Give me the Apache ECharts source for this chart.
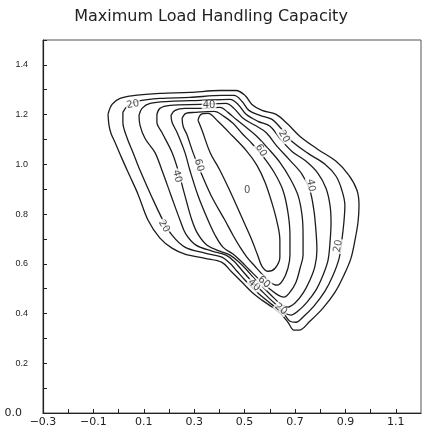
<!DOCTYPE html>
<html>
<head>
<meta charset="utf-8">
<script src="https://cdn.jsdelivr.net/npm/echarts@6/dist/echarts.min.js"></script>
<style>
  html, body { margin: 0; padding: 0; background: #fff; }
  #chart { width: 422px; height: 434px; }
</style>
</head>
<body>
<div id="chart"></div>
<script>
const title = "Maximum Load Handling Capacity";
const xLabelValues = [-0.3, -0.1, 0.1, 0.3, 0.5, 0.7, 0.9, 1.1];
const yLabelValues = [0.0, 0.2, 0.4, 0.6, 0.8, 1.0, 1.2, 1.4];

// contour lines, outermost first, [x, y]
const contour1 = [[-0.042,1.201],[-0.026,1.241],[0.006,1.265],[0.065,1.277],[0.164,1.285],[0.283,1.289],[0.402,1.297],[0.466,1.297],[0.502,1.277],[0.529,1.241],[0.569,1.217],[0.625,1.201],[0.672,1.161],[0.720,1.112],[0.791,1.060],[0.863,1.012],[0.914,0.956],[0.946,0.896],[0.954,0.835],[0.950,0.767],[0.938,0.695],[0.922,0.622],[0.894,0.554],[0.859,0.486],[0.811,0.422],[0.759,0.369],[0.716,0.333],[0.696,0.333],[0.672,0.365],[0.644,0.398],[0.609,0.426],[0.569,0.454],[0.529,0.486],[0.490,0.526],[0.450,0.566],[0.410,0.606],[0.343,0.622],[0.263,0.639],[0.212,0.663],[0.164,0.703],[0.117,0.775],[0.077,0.880],[0.045,0.952],[0.013,1.024],[-0.014,1.088],[-0.030,1.124],[-0.038,1.157],[-0.042,1.201]];
const contour2 = [[0.017,1.209],[0.037,1.237],[0.073,1.253],[0.164,1.265],[0.283,1.269],[0.410,1.277],[0.458,1.277],[0.490,1.253],[0.517,1.217],[0.561,1.197],[0.609,1.181],[0.644,1.145],[0.684,1.096],[0.752,1.044],[0.819,1.000],[0.863,0.952],[0.886,0.896],[0.898,0.835],[0.894,0.767],[0.886,0.695],[0.875,0.622],[0.851,0.554],[0.819,0.490],[0.775,0.430],[0.732,0.386],[0.704,0.365],[0.680,0.369],[0.656,0.398],[0.621,0.426],[0.581,0.458],[0.541,0.494],[0.502,0.534],[0.470,0.570],[0.442,0.602],[0.410,0.627],[0.343,0.643],[0.263,0.667],[0.212,0.715],[0.176,0.775],[0.129,0.875],[0.085,0.976],[0.057,1.048],[0.033,1.108],[0.017,1.169],[0.017,1.209]];
const contour3 = [[0.081,1.197],[0.093,1.225],[0.125,1.245],[0.204,1.253],[0.323,1.257],[0.442,1.261],[0.474,1.241],[0.506,1.201],[0.553,1.173],[0.601,1.153],[0.640,1.104],[0.688,1.052],[0.744,1.012],[0.791,0.964],[0.823,0.904],[0.839,0.835],[0.843,0.767],[0.839,0.687],[0.831,0.614],[0.811,0.554],[0.783,0.494],[0.748,0.446],[0.712,0.410],[0.684,0.394],[0.660,0.402],[0.636,0.426],[0.601,0.458],[0.561,0.498],[0.521,0.538],[0.486,0.578],[0.458,0.610],[0.426,0.635],[0.371,0.651],[0.307,0.675],[0.267,0.719],[0.244,0.775],[0.208,0.875],[0.172,0.976],[0.144,1.048],[0.105,1.104],[0.085,1.157],[0.081,1.197]];
const contour4 = [[0.152,1.201],[0.164,1.225],[0.204,1.237],[0.323,1.241],[0.426,1.245],[0.458,1.225],[0.494,1.185],[0.541,1.157],[0.585,1.128],[0.629,1.072],[0.680,1.016],[0.728,0.960],[0.759,0.896],[0.775,0.815],[0.783,0.735],[0.787,0.655],[0.779,0.590],[0.759,0.534],[0.732,0.482],[0.700,0.442],[0.672,0.426],[0.648,0.434],[0.617,0.462],[0.581,0.498],[0.541,0.538],[0.506,0.578],[0.474,0.610],[0.442,0.635],[0.402,0.651],[0.351,0.675],[0.315,0.719],[0.291,0.775],[0.263,0.875],[0.236,0.976],[0.212,1.048],[0.172,1.128],[0.152,1.169],[0.152,1.201]];
const contour5 = [[0.208,1.197],[0.224,1.217],[0.263,1.225],[0.323,1.225],[0.402,1.229],[0.434,1.209],[0.466,1.181],[0.506,1.149],[0.545,1.116],[0.593,1.064],[0.640,1.008],[0.680,0.944],[0.712,0.875],[0.728,0.795],[0.732,0.715],[0.732,0.635],[0.720,0.582],[0.704,0.526],[0.680,0.486],[0.656,0.466],[0.633,0.474],[0.601,0.498],[0.561,0.534],[0.521,0.574],[0.486,0.610],[0.454,0.639],[0.414,0.667],[0.383,0.715],[0.355,0.775],[0.315,0.875],[0.283,0.976],[0.263,1.048],[0.232,1.128],[0.212,1.169],[0.208,1.197]];
const contour6 = [[0.252,1.185],[0.267,1.205],[0.303,1.209],[0.379,1.213],[0.418,1.193],[0.454,1.165],[0.490,1.124],[0.529,1.084],[0.573,1.032],[0.617,0.968],[0.652,0.896],[0.672,0.807],[0.680,0.715],[0.680,0.635],[0.672,0.582],[0.652,0.534],[0.629,0.514],[0.601,0.526],[0.573,0.554],[0.541,0.590],[0.509,0.627],[0.482,0.667],[0.454,0.715],[0.422,0.775],[0.367,0.875],[0.323,0.976],[0.295,1.048],[0.271,1.120],[0.256,1.153],[0.252,1.185]];
const contour7 = [[0.315,1.177],[0.327,1.201],[0.355,1.205],[0.394,1.173],[0.450,1.116],[0.506,1.056],[0.549,0.996],[0.581,0.928],[0.609,0.843],[0.629,0.767],[0.640,0.695],[0.640,0.627],[0.621,0.582],[0.593,0.570],[0.569,0.590],[0.553,0.631],[0.529,0.695],[0.494,0.775],[0.450,0.875],[0.402,0.976],[0.363,1.048],[0.331,1.137],[0.315,1.177]];

// contour labels: text, x, y
const contourLabels = [
  ["20", 0.057, 1.241],
  ["40", 0.359, 1.237],
  ["20", 0.656, 1.112],
  ["60", 0.565, 1.056],
  ["0", 0.510, 0.896],
  ["40", 0.232, 0.952],
  ["60", 0.319, 0.996],
  ["20", 0.180, 0.751],
  ["40", 0.763, 0.916],
  ["20", 0.871, 0.671],
  ["40", 0.537, 0.514],
  ["60", 0.577, 0.526],
  ["20", 0.644, 0.418],
];
const labelRotation = [12, 0, -60, -60, 0, -75, -75, -60, -80, 80, -40, -40, -40];

const contours = [contour1, contour2, contour3, contour4, contour5, contour6, contour7];

const chart = echarts.init(document.getElementById("chart"), null, { renderer: "canvas" });

const isIn = (list, v) => list.some((t) => Math.abs(t - v) < 1e-6);

const lineSeries = contours.map((c) => ({
  type: "line",
  data: c,
  smooth: 0.35,
  symbol: "none",
  silent: true,
  lineStyle: { color: "#1c1c1c", width: 1.3 },
  z: 2,
}));

const labelSeries = {
  type: "scatter",
  symbol: "circle",
  symbolSize: 1,
  silent: true,
  z: 5,
  itemStyle: { color: "rgba(0,0,0,0)" },
  data: contourLabels.map((l, i) => ({
    value: [l[1], l[2]],
    name: l[0],
    label: { rotate: labelRotation[i] },
  })),
  label: {
    show: true,
    position: "inside",
    formatter: (p) => p.name,
    fontFamily: "DejaVu Sans",
    fontSize: 10,
    color: "#1c1c1c",
    backgroundColor: "#fff",
    padding: [0, 1],
  },
};

chart.setOption({
  animation: false,
  backgroundColor: "#fff",
  title: {
    text: title,
    left: "center",
    top: 4,
    textStyle: {
      fontFamily: "DejaVu Sans",
      fontSize: 16,
      fontWeight: "normal",
      color: "#222",
    },
  },
  grid: {
    left: 43,
    right: 1,
    top: 40,
    bottom: 21,
    show: true,
    borderColor: "#555",
    borderWidth: 1,
  },
  xAxis: {
    type: "value",
    min: -0.3,
    max: 1.2,
    interval: 0.1,
    splitLine: { show: false },
    axisLine: { onZero: false, lineStyle: { color: "#222", width: 1.2 } },
    axisTick: { inside: true, length: 4, lineStyle: { color: "#222" } },
    axisLabel: {
      margin: 4,
      fontFamily: "DejaVu Sans",
      fontSize: 11,
      color: "#222",
      showMaxLabel: false,
      formatter: (v) => (isIn(xLabelValues, v) ? v.toFixed(1).replace("-", "\u2212") : ""),
    },
  },
  yAxis: {
    type: "value",
    min: 0,
    max: 1.5,
    interval: 0.1,
    splitLine: { show: false },
    axisLine: { onZero: false, lineStyle: { color: "#222", width: 1.2 } },
    axisTick: { inside: true, length: 4, lineStyle: { color: "#222" } },
    axisLabel: {
      margin: 15,
      fontFamily: "Liberation Sans",
      fontSize: 9,
      color: "#222",
      formatter: (v) => {
        if (Math.abs(v) < 1e-6) return "{z|0.0}";
        return isIn(yLabelValues, v) ? v.toFixed(1) : "";
      },
      rich: {
        z: { fontFamily: "DejaVu Sans", fontSize: 11, color: "#222", padding: [0, 6, 0, 0] },
      },
    },
  },
  series: [...lineSeries, labelSeries],
});
</script>
</body>
</html>
